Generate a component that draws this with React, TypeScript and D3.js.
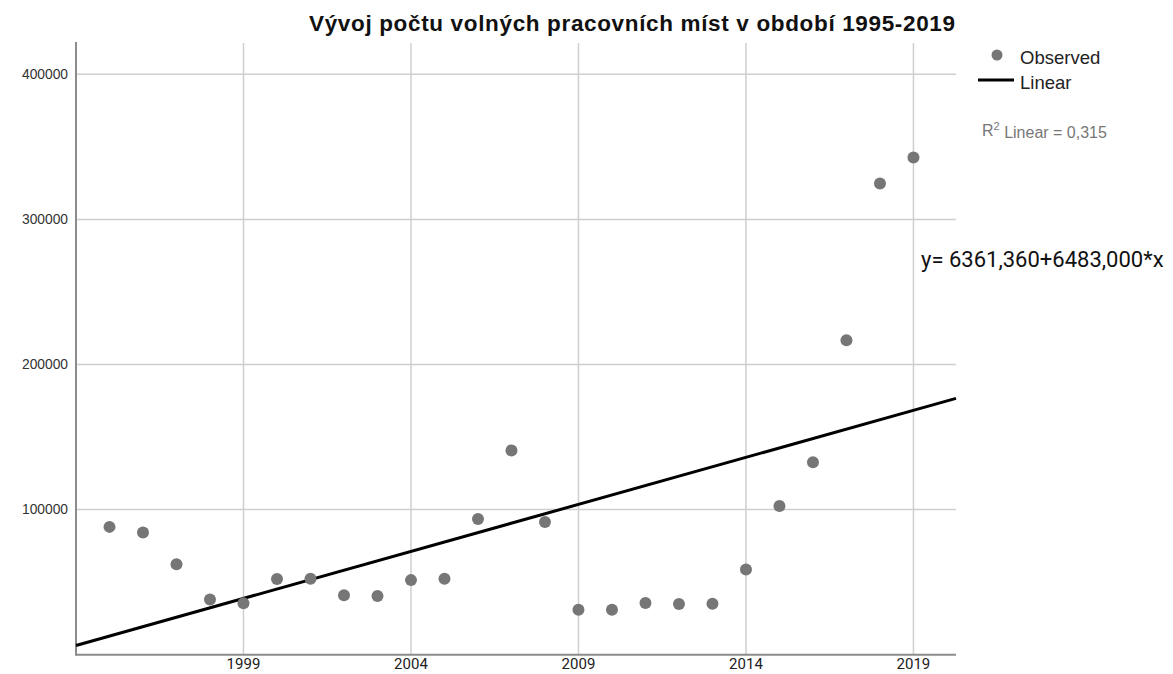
import * as d3 from "d3";

// data
const years = [
  1995, 1996, 1997, 1998, 1999, 2000, 2001, 2002, 2003, 2004, 2005, 2006, 2007,
  2008, 2009, 2010, 2011, 2012, 2013, 2014, 2015, 2016, 2017, 2018, 2019,
];
const vacancies = [
  88100, 84200, 62400, 38100, 35400, 52100, 52300, 40900, 40400, 51400, 52300,
  93600, 140800, 91400, 31000, 31000, 35600, 34900, 35100, 58800, 102500,
  132600, 216800, 324800, 342700,
];
const xTicks = [1999, 2004, 2009, 2014, 2019];
const yTicks = [100000, 200000, 300000, 400000];

// linear fit as reported (x = years since 1994)
const intercept = 6361.36;
const slope = 6483.0;
const baseYear = 1994;
const title = "Vývoj počtu volných pracovních míst v období 1995-2019";
const equation = "y= 6361,360+6483,000*x";
const r2Label = "0,315";

const W = 1173;
const H = 674;
const left = 76;
const right = 956;
const top = 43;
const bottom = 654.7;

const App = () => {
  const x = d3.scaleLinear().domain([1994, 2020.27]).range([left, right]);
  const y = d3.scaleLinear().domain([0, 421600]).range([bottom, top]);

  const points = years.map((yr, i) => ({ yr, v: vacancies[i] }));
  const fit = x.domain().map((yr) => ({
    yr,
    v: intercept + slope * (yr - baseYear),
  }));
  const lineFn = d3
    .line<{ yr: number; v: number }>()
    .x((d) => x(d.yr))
    .y((d) => y(d.v));

  return (
    <svg
      width={W}
      height={H}
      style={{ position: "absolute", left: 0, top: 0, background: "#fff" }}
    >
      <text
        x={309}
        y={31}
        textLength={646}
        lengthAdjust="spacing"
        fontFamily="Liberation Sans, Arial, sans-serif"
        fontWeight="bold"
        fontSize={22.5}
        fill="#111"
      >
        {title}
      </text>

      {/* grid */}
      <g stroke="#cfcfcf" strokeWidth={1.5}>
        {yTicks.map((t) => (
          <line key={t} x1={left} x2={right} y1={y(t)} y2={y(t)} />
        ))}
        {xTicks.map((t) => (
          <line key={t} x1={x(t)} x2={x(t)} y1={top} y2={bottom} />
        ))}
      </g>

      {/* axes */}
      <g stroke="#8c8c8c" strokeWidth={2}>
        <line x1={left} x2={left} y1={top - 1} y2={bottom + 1} />
        <line x1={left} x2={right} y1={bottom} y2={bottom} />
      </g>

      <g
        fontFamily="Liberation Sans, Arial, sans-serif"
        fontSize={13.8}
        fill="#333"
        textAnchor="end"
      >
        {yTicks.map((t) => (
          <text key={t} x={68} y={y(t)} dy="0.35em">
            {t}
          </text>
        ))}
      </g>
      <g
        fontFamily="Roboto, sans-serif"
        fontSize={15}
        fill="#222"
        textAnchor="middle"
      >
        {xTicks.map((t) => (
          <text key={t} x={x(t)} y={669}>
            {t}
          </text>
        ))}
      </g>

      <path
        d={lineFn(fit) ?? ""}
        fill="none"
        stroke="#000"
        strokeWidth={3}
      />

      <g fill="#767676">
        {points.map((d) => (
          <circle key={d.yr} cx={x(d.yr)} cy={y(d.v)} r={6} />
        ))}
      </g>

      <text
        x={921}
        y={259}
        dy="0.35em"
        fontFamily="Roboto, sans-serif"
        fontSize={22}
        fill="#111"
      >
        {equation}
      </text>

      {/* legend */}
      <g fontFamily="Liberation Sans, Arial, sans-serif" fontSize={18.5}>
        <circle cx={997} cy={55} r={5.5} fill="#767676" />
        <text x={1020} y={58} dy="0.35em" fill="#222">
          Observed
        </text>
        <line x1={978} x2={1014} y1={80} y2={80} stroke="#000" strokeWidth={3} />
        <text x={1020} y={83} dy="0.35em" fill="#222">
          Linear
        </text>
        <text x={982} y={130} dy="0.35em" fill="#777" fontSize={16}>
          R<tspan dy="-0.55em" fontSize={11}>2</tspan>
          <tspan dy="0.55em"> Linear = {r2Label}</tspan>
        </text>
      </g>
    </svg>
  );
};

export default App;
